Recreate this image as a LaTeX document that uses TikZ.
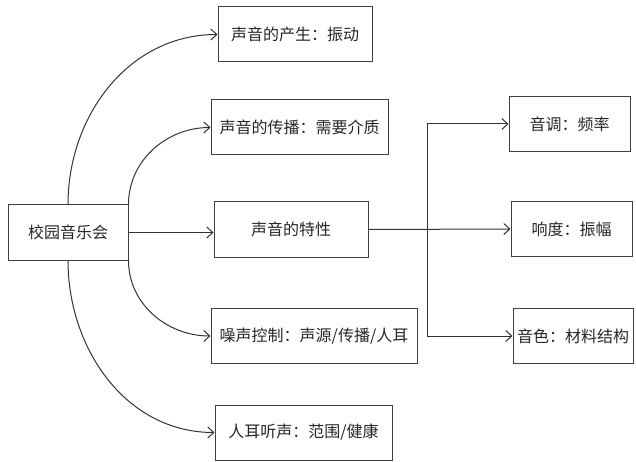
\documentclass[tikz,border=0pt]{standalone}
\usepackage{fontspec}
\setmainfont{Noto Sans CJK SC}
\usetikzlibrary{arrows.meta}
\begin{document}
\begin{tikzpicture}[x=1pt, y=-1pt,
  box/.style={draw=black!75, line width=1pt, inner sep=0pt, minimum height=55pt, text=black!85, font=\fontsize{16}{19}\selectfont},
  link/.style={draw=black!80, line width=1pt, -{Straight Barb[length=6pt,width=11pt]}}]
  \useasboundingbox (0,0) rectangle (636,462);
  % main topic and the five branches
  \node[box, minimum width=120pt] (root) at (68,232.5) {校园音乐会};
  \node[box, minimum width=154pt] (birth) at (295,34.5) {声音的产生：振动};
  \node[box, minimum width=177pt] (travel) at (299.5,127.5) {声音的传播：需要介质};
  \node[box, minimum width=154pt] (traits) at (291,229.5) {声音的特性};
  \node[box, minimum width=206pt] (noise) at (314,336) {噪声控制：声源/传播/人耳};
  \node[box, minimum width=177pt] (hear) at (303.5,432.5) {人耳听声：范围/健康};
  % the three traits
  \node[box, minimum width=121pt] (pitch) at (569.5,124) {音调：频率};
  \node[box, minimum width=121pt] (loud) at (571.5,229) {响度：振幅};
  \node[box, minimum width=120pt] (tone) at (573,336) {音色：材料结构};
  \coordinate (fork) at (427,229.5);
  \draw[link] (root.north) to[out=90, in=180] (birth.west);
  \draw[link] (root.north east) to[out=90, in=180] (travel.west);
  \draw[link] (root.east) -- (root.east -| traits.west);
  \draw[link] (root.south east) to[out=-90, in=180] (noise.west);
  \draw[link] (root.south) to[out=-90, in=180] (hear.west);
  \draw[link] (traits.east) -- (loud.west);
  \draw[link] (fork) |- (pitch.west);
  \draw[link] (fork) |- (tone.west);
\end{tikzpicture}
\end{document}
